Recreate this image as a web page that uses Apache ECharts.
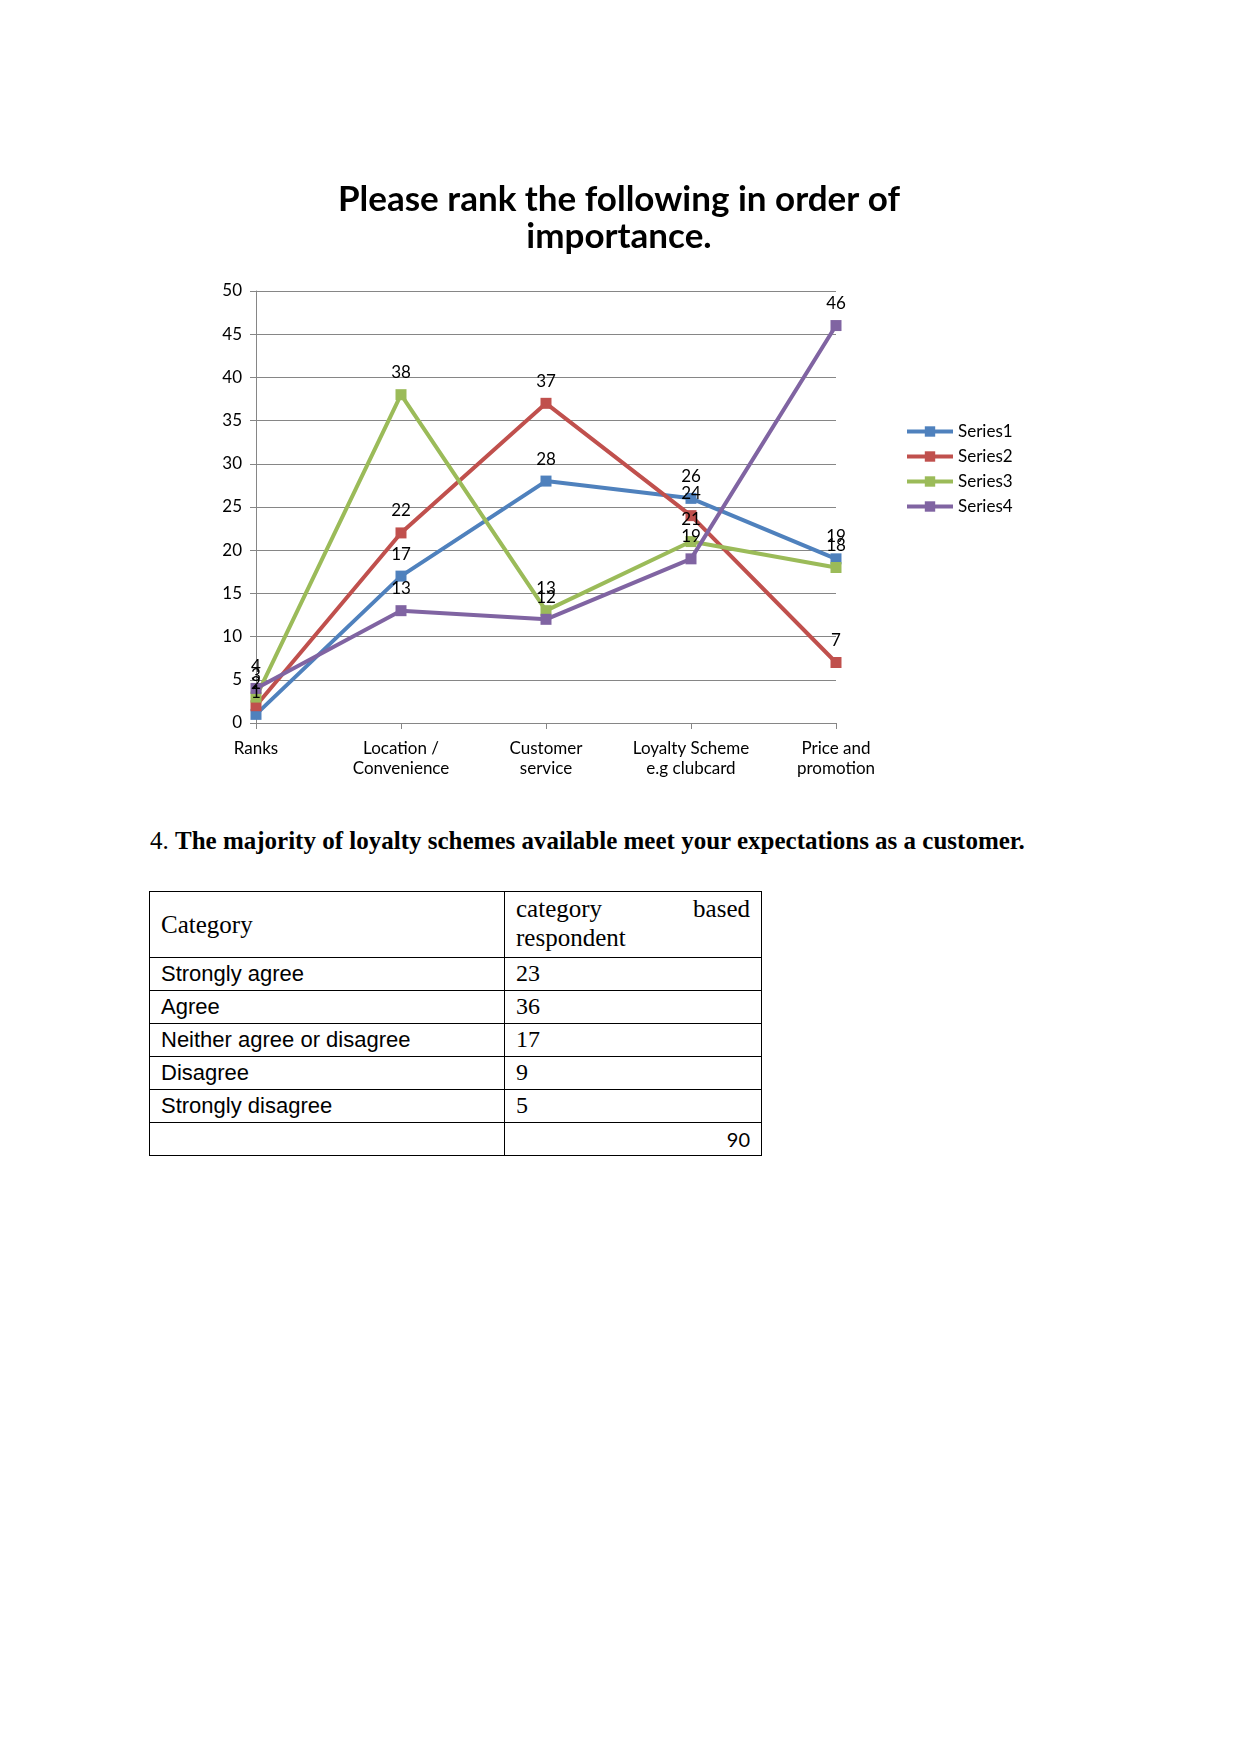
<!DOCTYPE html>
<html><head><meta charset="utf-8">
<script src="https://cdn.jsdelivr.net/npm/echarts@6/dist/echarts.min.js"></script>
<style>
html,body{margin:0;padding:0;background:#fff;width:1241px;height:1754px;overflow:hidden;}
#chart{position:absolute;left:0;top:0;width:1241px;height:800px;}
#q{position:absolute;left:150px;top:827px;font-family:"Liberation Serif",serif;font-size:25px;color:#000;white-space:nowrap;}
#q b{font-weight:bold;}
table{position:absolute;left:149px;top:891px;border-collapse:collapse;width:612px;table-layout:fixed;}
td{border:1.3px solid #000;padding:0 11px;vertical-align:top;color:#000;overflow:hidden;white-space:nowrap;}
td.c1{font-family:"Liberation Sans",sans-serif;font-size:22px;line-height:32px;height:31px;}
td.c2{font-family:"Liberation Serif",serif;font-size:24px;line-height:31px;height:31px;}
</style></head><body>
<div id="chart"></div>
<div id="q">4. <b>The majority of loyalty schemes available meet your expectations as a customer.</b></div>
<table id="tbl"><colgroup><col style="width:355px"><col style="width:257px"></colgroup><tbody id="tb"></tbody></table>
<script>
const categories = ["Ranks", "Location /\nConvenience", "Customer\nservice", "Loyalty Scheme\ne.g clubcard", "Price and\npromotion"];
const series1 = [1, 17, 28, 26, 19];
const series2 = [2, 22, 37, 24, 7];
const series3 = [3, 38, 13, 21, 18];
const series4 = [4, 13, 12, 19, 46];
const seriesNames = ["Series1", "Series2", "Series3", "Series4"];
const colors = ["#4F81BD", "#C0504D", "#9BBB59", "#8064A2"];
const tableCategories = ["Strongly agree", "Agree", "Neither agree or disagree", "Disagree", "Strongly disagree"];
const tableValues = [23, 36, 17, 9, 5];
const tableTotal = 90;

const chart = echarts.init(document.getElementById('chart'));
const font = 'Lato, "Open Sans", sans-serif';
const allData = [series1, series2, series3, series4];
chart.setOption({
  animation: false,
  color: colors,
  title: {
    text: "Please rank the following in order of\nimportance.",
    left: 614, top: 176, textAlign: 'center',
    textStyle: {fontFamily: font, fontWeight: 'bold', fontSize: 35, lineHeight: 37, color: '#000'}
  },
  legend: {
    orient: 'vertical', left: 900, top: 418, itemGap: 8, itemWidth: 46, itemHeight: 13,
    textStyle: {fontFamily: font, fontSize: 17, color: '#000'},
    lineStyle: {width: 4},
    data: seriesNames
  },
  grid: {left: 256, top: 291, width: 580, height: 432},
  xAxis: {
    type: 'category', data: categories, boundaryGap: false,
    axisLine: {lineStyle: {color: '#868686', width: 1}},
    axisTick: {show: true, alignWithLabel: true, length: 6, lineStyle: {color: '#868686'}},
    axisLabel: {fontFamily: font, fontSize: 17, color: '#000', lineHeight: 20, margin: 16, interval: 0},
    splitLine: {show: false}
  },
  yAxis: {
    type: 'value', min: 0, max: 50, interval: 5,
    axisLine: {show: true, lineStyle: {color: '#868686', width: 1}},
    axisTick: {show: true, length: 6, lineStyle: {color: '#868686'}},
    axisLabel: {fontFamily: font, fontSize: 17, color: '#000', margin: 14},
    splitLine: {lineStyle: {color: '#868686', width: 1}}
  },
  series: allData.map((d, i) => ({
    name: seriesNames[i], type: 'line', data: d,
    symbol: 'rect', symbolSize: 11,
    lineStyle: {width: 4, color: colors[i]},
    itemStyle: {color: colors[i]},
    label: {show: true, position: 'top', distance: 8, fontFamily: font, fontSize: 17, color: '#000'}
  }))
});

const tb = document.getElementById('tb');
let html = '<tr><td class="c2" style="height:64px;font-size:25px;vertical-align:middle">Category</td>' +
  '<td class="c2" style="height:63px;line-height:29px;padding-top:2px;font-size:25px"><div style="display:flex;justify-content:space-between"><span>category</span><span>based</span></div>respondent</td></tr>';
tableCategories.forEach((c, i) => {
  html += '<tr><td class="c1">' + c + '</td><td class="c2">' + tableValues[i] + '</td></tr>';
});
html += '<tr><td class="c1"></td><td class="c1" style="text-align:right;font-family:Lato,sans-serif;font-size:20px">' + tableTotal + '</td></tr>';
tb.innerHTML = html;
</script>
</body></html>
